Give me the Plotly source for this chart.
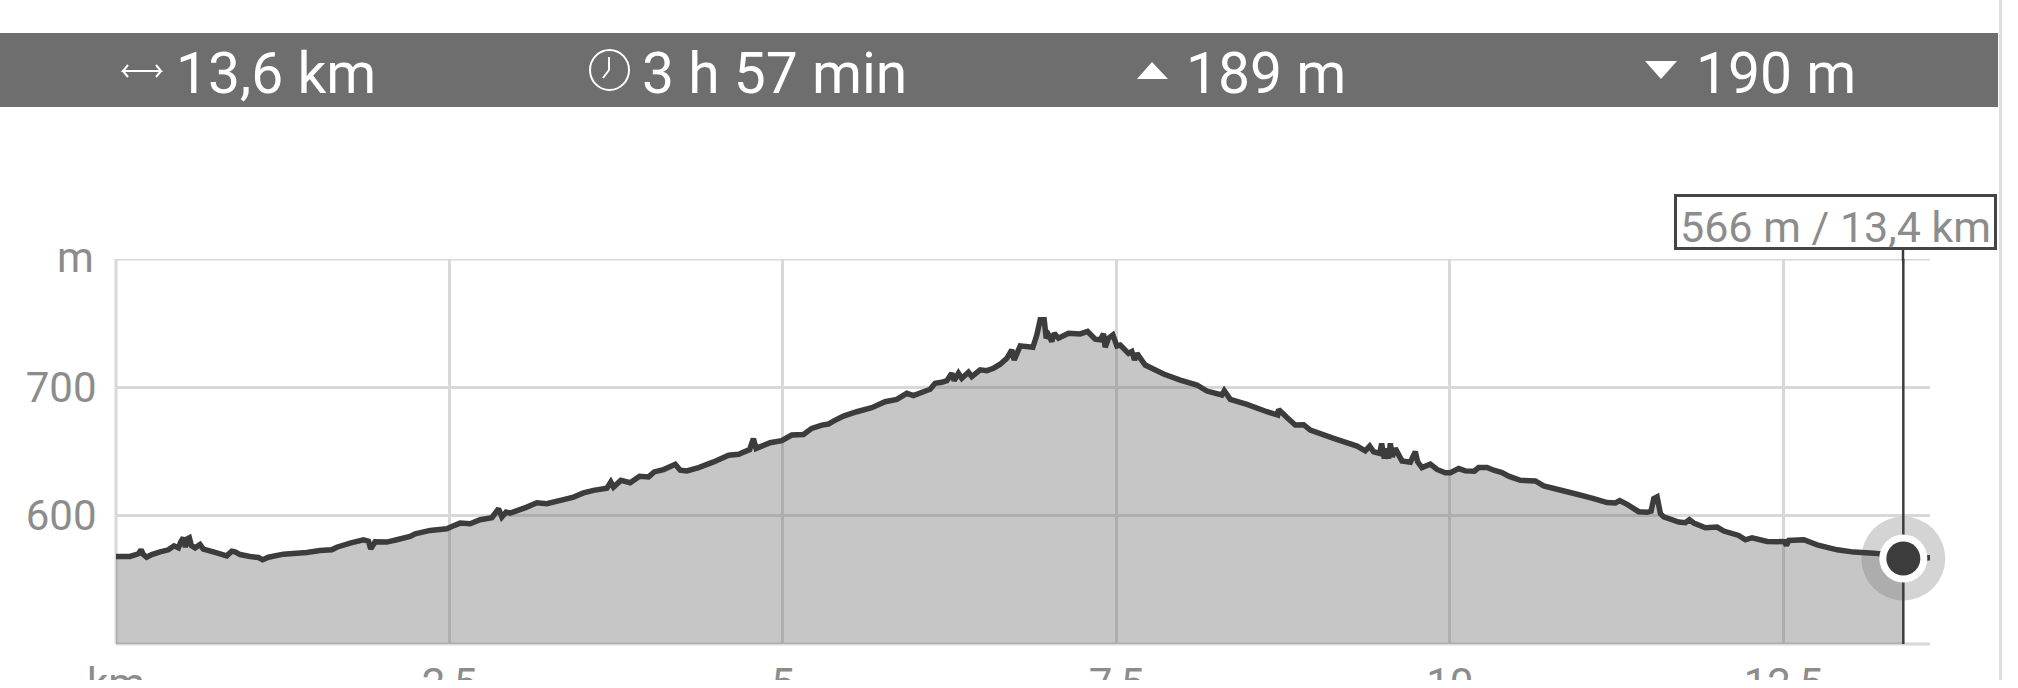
import plotly.graph_objects as go

# Distance (km) and elevation (m)
distance_km = [0.0,0.105,0.168,0.188,0.205,0.23,0.268,0.33,0.393,0.435,0.468,0.485,0.505,0.52,0.535,0.55,0.565,0.593,0.63,0.655,
 0.73,0.78,0.83,0.868,0.893,0.93,1.005,1.068,1.1,1.143,1.255,1.43,1.53,1.618,1.655,1.755,1.855,1.893,1.91,1.943,
 2.03,2.105,2.205,2.243,2.355,2.48,2.518,2.58,2.655,2.73,2.818,2.868,2.893,2.925,2.955,3.08,3.155,3.23,3.355,3.43,
 3.505,3.58,3.68,3.71,3.73,3.785,3.855,3.925,3.993,4.035,4.105,4.193,4.23,4.28,4.368,4.48,4.593,4.668,4.75,4.779,
 4.799,4.904,4.991,5.066,5.154,5.216,5.291,5.341,5.379,5.454,5.554,5.666,5.766,5.854,5.929,5.979,6.054,6.104,6.141,6.191,
 6.229,6.266,6.284,6.316,6.341,6.391,6.416,6.479,6.529,6.579,6.629,6.679,6.716,6.734,6.779,6.874,6.904,6.929,6.959,6.974,
 6.991,7.016,7.034,7.066,7.141,7.229,7.284,7.341,7.379,7.404,7.416,7.441,7.474,7.504,7.529,7.591,7.616,7.636,7.654,7.716,
 7.854,7.979,8.104,8.179,8.291,8.309,8.354,8.479,8.629,8.709,8.716,8.779,8.841,8.904,8.954,9.129,9.304,9.366,9.399,9.429,
 9.474,9.489,9.509,9.524,9.541,9.554,9.569,9.591,9.641,9.704,9.741,9.759,9.791,9.854,9.904,9.966,10.004,10.066,10.116,10.184,
 10.216,10.279,10.329,10.391,10.441,10.529,10.641,10.704,10.804,10.954,11.079,11.179,11.241,11.274,11.329,11.416,11.479,11.509,11.529,11.554,
 11.579,11.604,11.716,11.766,11.796,11.829,11.916,12.004,12.054,12.166,12.216,12.266,12.379,12.509,12.524,12.541,12.654,12.754,12.904,13.029,
 13.179,13.27,13.4,13.6]
elevation_m = [568.2,568.2,570.3,573.4,569.7,567.6,569.7,571.8,573.4,576.5,574.9,579.4,582.8,575.4,582,582.8,576.8,574.9,577.5,573.9,
 571.8,570.3,568.7,572.3,571.8,569.7,568.2,567.4,565.6,567.6,570,571.3,572.9,573.4,575.4,578.6,581.2,580.1,574.1,579.6,
 579.4,581.2,583.8,585.9,588.5,589.8,591.6,594.2,593.7,596.8,598.4,605.4,598.9,602.8,602,606.7,610.1,609.3,612.5,614.5,
 617.7,619.7,621.3,626.2,622.3,627.5,625.7,630.7,630.2,634.1,635.9,640,635.4,634.8,637.4,641.9,647.1,647.9,651.5,660,
 652.4,656.8,658.4,662.8,663.3,668,670.6,671.4,673.7,677.6,681,684.1,688.8,690.6,695.3,693.5,696.6,698.5,703.1,703.9,
 705.2,711,705.2,711,707,711.7,708.4,713.6,713,714.9,718,722.6,729.2,721.3,732.3,731.2,740.9,752.6,752.6,738.3,
 740.9,735.7,742.2,738.3,742.2,741.6,743.5,737.5,737,741.6,731.2,738.3,740.9,732.3,733,726.5,727.9,721.3,726.5,717.4,
 710.4,705.7,701.8,697.1,694,697.4,690.6,686.7,681,678.4,682.8,676.5,670.6,670.9,666.7,660.2,654.2,650.5,654.2,649.8,
 648.5,656.3,644.5,652.4,644.5,656.3,645.9,652.4,642.7,641.7,649.8,642,637.5,640.1,636,633.4,633.4,636.7,634.9,634.7,
 637.5,637.5,635.4,633.6,630.8,627.6,627.1,623.2,620.6,616.7,613.3,610.2,609.9,611.7,608.8,603.1,602.6,603.6,613.3,614.6,
 601.6,599,595,594.5,596.9,594.3,590.6,591.1,588,584.6,581.2,582.8,579.9,579.7,576.8,580.7,581.2,577.3,573.4,571.6,
 570.8,569.8,566.6,567.2]

x_ticks = [0, 2.5, 5, 7.5, 10, 12.5]
x_labels = ["km", "2,5", "5", "7,5", "10", "12,5"]
y_ticks = [500, 600, 700, 800]
y_labels = ["", "600", "700", ""]
y_unit = "m"
cursor_km = 13.4
cursor_m = 566.6
cursor_label = "566 m / 13,4 km"
stats = ["13,6 km", "3 h 57 min", "189 m", "190 m"]

W, H = 2018, 680
L, R, T, B = 116, 1930, 259, 644
FONT = "Roboto"
GREY = "#8c8c8c"
DARK = "#3c3c3c"
GRID = "#d8d8d8"

def px(x):
    return (x - L) / (R - L)

def py(y):
    return (B - y) / (B - T)

def path(points, close=False):
    s = "M " + " L ".join(f"{px(a):.5f},{py(b):.5f}" for a, b in points)
    return s + (" Z" if close else "")

fill_n = sum(1 for d in distance_km if d <= cursor_km)

fig = go.Figure()
fig.add_trace(go.Scatter(x=distance_km[:fill_n], y=elevation_m[:fill_n], mode="none",
                         fill="tozeroy", fillcolor="rgba(107,107,107,0.385)", hoverinfo="skip"))
fig.add_trace(go.Scatter(x=[cursor_km], y=[cursor_m], mode="markers", cliponaxis=False, hoverinfo="skip",
                         marker=dict(size=84, color="rgba(119,119,119,0.316)", line=dict(width=0))))
fig.add_trace(go.Scatter(x=distance_km, y=elevation_m, mode="lines", cliponaxis=False, hoverinfo="skip",
                         line=dict(color=DARK, width=5.5, simplify=False)))
fig.add_trace(go.Scatter(x=[cursor_km, cursor_km], y=[500, 800], mode="lines", cliponaxis=False, hoverinfo="skip",
                         line=dict(color=DARK, width=2.5)))
fig.add_trace(go.Scatter(x=[cursor_km], y=[cursor_m], mode="markers", cliponaxis=False, hoverinfo="skip",
                         marker=dict(size=48, color="white", line=dict(width=0))))
fig.add_trace(go.Scatter(x=[cursor_km], y=[cursor_m], mode="markers", cliponaxis=False, hoverinfo="skip",
                         marker=dict(size=34, color=DARK, line=dict(width=0))))

grid_line = dict(color=GRID, width=3)
shapes = [
    # Frame gridlines that Plotly omits at the axis ends
    dict(type="line", xref="x", yref="y", x0=0, x1=13.6, y0=800, y1=800, line=grid_line, layer="below"),
    dict(type="line", xref="paper", yref="paper", x0=0, x1=1, y0=0, y1=0, line=grid_line, layer="below"),
    dict(type="line", xref="paper", yref="paper", x0=0, x1=0, y0=0, y1=1, line=grid_line, layer="below"),
    # Header bar
    dict(type="rect", xref="paper", yref="paper", x0=px(0), x1=px(1998), y0=py(107), y1=py(33),
         fillcolor="#6e6e6e", line=dict(width=0), layer="below"),
    # Scrollbar edge on the right
    dict(type="rect", xref="paper", yref="paper", x0=px(1999), x1=px(2002), y0=py(0), y1=py(H),
         fillcolor="#dedede", line=dict(width=0), layer="below"),
    # Clock icon
    dict(type="circle", xref="paper", yref="paper", x0=px(590), x1=px(629), y0=py(90), y1=py(50),
         fillcolor="rgba(0,0,0,0)", line=dict(color="white", width=2)),
    dict(type="path", xref="paper", yref="paper", path=path([(609, 57), (609, 70), (603, 78)]),
         line=dict(color="white", width=2)),
    # Up and down triangles
    dict(type="path", xref="paper", yref="paper", path=path([(1152, 62), (1168, 79), (1137, 79)], True),
         fillcolor="white", line=dict(width=0)),
    dict(type="path", xref="paper", yref="paper", path=path([(1645, 61), (1677, 61), (1661, 79)], True),
         fillcolor="white", line=dict(width=0)),
    # Double arrow icon
    dict(type="path", xref="paper", yref="paper",
         path=path([(128, 65), (123, 71), (161, 71), (156, 65)]) + " " + path([(128, 77), (123, 71)]) + " " + path([(161, 71), (156, 77)]),
         line=dict(color="white", width=2)),
    # Cursor line stub above the plot and the label box
    dict(type="line", xref="paper", yref="paper", x0=px(1903), x1=px(1903), y0=py(261), y1=py(250),
         line=dict(color=DARK, width=2.5), layer="above"),
    dict(type="rect", xref="paper", yref="paper", x0=px(1675.5), x1=px(1995.5), y0=py(248.5), y1=py(195.5),
         fillcolor="white", line=dict(color="#444444", width=3), layer="above"),
]

annotations = []
for text, left in zip(stats, [174, 640, 1184, 1694]):
    annotations.append(dict(text=text, xref="paper", yref="paper", x=px(left), y=py(74), xanchor="left", yanchor="middle",
                            showarrow=False, font=dict(family=FONT, size=57, color="white")))
annotations.append(dict(text=cursor_label, xref="paper", yref="paper", x=px(1835.5), y=py(227), xanchor="center", yanchor="middle",
                        showarrow=False, font=dict(family=FONT, size=43, color=GREY)))
annotations.append(dict(text=y_unit, xref="paper", yref="paper", x=px(96), y=py(257.5), xanchor="right", yanchor="middle",
                        showarrow=False, font=dict(family=FONT, size=42, color=GREY)))

fig.update_layout(
    width=W, height=H, autosize=False, showlegend=False,
    paper_bgcolor="white", plot_bgcolor="white",
    margin=dict(l=L, r=W - R, t=T, b=H - B, pad=0, autoexpand=False),
    font=dict(family=FONT, size=42, color=GREY),
    xaxis=dict(range=[0, 13.6], tickmode="array", tickvals=x_ticks, ticktext=x_labels, showgrid=True,
               gridcolor=GRID, gridwidth=3, zeroline=False, showline=False, ticks="outside", ticklen=3,
               tickcolor="rgba(0,0,0,0)", tickangle=0, tickfont=dict(family=FONT, size=42, color=GREY)),
    yaxis=dict(range=[500, 800], tickmode="array", tickvals=y_ticks, ticktext=y_labels, showgrid=True,
               gridcolor=GRID, gridwidth=3, zeroline=False, showline=False, ticks="outside", ticklen=10,
               tickcolor="rgba(0,0,0,0)", tickfont=dict(family=FONT, size=42, color=GREY)),
    shapes=shapes, annotations=annotations,
)

fig.write_html("out.html", config={"displayModeBar": False},
               post_script="document.body.style.margin='0';document.body.style.background='white';")
